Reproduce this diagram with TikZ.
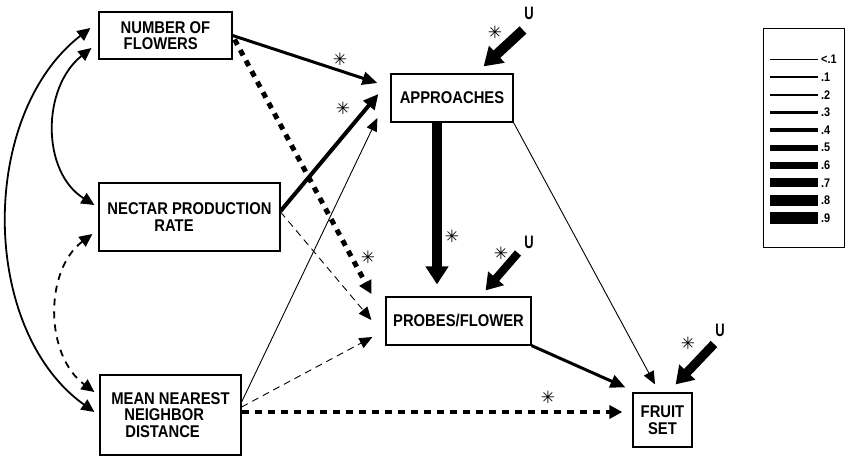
\documentclass[tikz,border=0pt]{standalone}
\usepackage{fontspec}
\newfontfamily\labfont{Liberation Sans}[FakeStretch=0.87]
\newfontfamily\ufont{Liberation Sans}[FakeStretch=0.72]
\newfontfamily\symfont{DejaVu Sans}
\usetikzlibrary{arrows.meta,calc}

\begin{document}
\begin{tikzpicture}[x=1pt,y=-1pt,
  box/.style={draw, line width=1.2pt, inner sep=0pt,
    font=\labfont\bfseries\fontsize{17pt}{16.5pt}\selectfont},
  leglab/.style={inner sep=0pt, anchor=west,
    font=\labfont\bfseries\fontsize{12.5pt}{12.5pt}\selectfont},
  ulab/.style={inner sep=0pt, font=\ufont\bfseries\fontsize{18pt}{18pt}\selectfont},
  sig/.style={inner sep=0pt, font=\symfont\fontsize{17pt}{17pt}\selectfont},
  % path coefficients, line width by strength
  thin/.style={line width=0.9pt, -{Triangle[length=13pt,width=11pt]}},
  thindash/.style={thin, dash pattern=on 7pt off 5pt},
  mid/.style={line width=3pt, -{Triangle[length=15pt,width=13pt]}},
  midthick/.style={line width=4pt, -{Triangle[length=15pt,width=14pt]}},
  dotthick/.style={line width=5pt, dash pattern=on 6pt off 6pt,
    -{Triangle[length=13pt,width=13pt]}},
  heavy/.style={line width=10pt, -{Triangle[length=18pt,width=22pt]}},
  corr/.style={line width=1.8pt, {Triangle[length=13pt,width=12pt]}-{Triangle[length=13pt,width=12pt]}},
]
\useasboundingbox (0,0) rectangle (846,458);

% variables
\node[box, minimum width=133pt, minimum height=47pt, align=left] (nof) at (165.5,35.5)
  {NUMBER OF\\\hspace*{3pt}FLOWERS};
\node[box, minimum width=181pt, minimum height=68pt, align=left] (nec) at (189.5,217)
  {NECTAR PRODUCTION\\\hspace*{47pt}RATE};
\node[box, minimum width=141pt, minimum height=80pt, align=left] (mnn) at (170.5,415)
  {MEAN NEAREST\\\hspace*{13pt}NEIGHBOR\\\hspace*{14pt}DISTANCE};
\node[box, minimum width=122pt, minimum height=48pt] (app) at (452,98) {APPROACHES};
\node[box, minimum width=145pt, minimum height=48pt] (prb) at (458.5,321) {PROBES/FLOWER};
\node[box, minimum width=59pt, minimum height=54pt, align=center] (fru) at (662.5,420)
  {FRUIT\\SET};

% correlations among the floral variables
\draw[corr] ($(nof.west)+(-8,-7.5)$) .. controls +(-112,87) and +(-115,-82) .. ($(mnn.west)+(-5,-3)$);
\draw[corr] ($(nof.west)+(-7,12.5)$) .. controls +(-50,40) and +(-53,-33) .. ($(nec.west)+(-4,-12)$);
\draw[corr, dash pattern=on 7pt off 6pt] ($(nec.west)+(-6,17)$) .. controls +(-48,36) and +(-50,-37) .. ($(mnn.west)+(-5,-23)$);

% paths to approaches
\draw[mid] (nof.east) -- ($(app.west)+(-13,-15)$);
\draw[midthick] ($(nec.east)+(0,-6)$) -- ($(app.west)+(-12,-4)$);
\draw[thin] ($(mnn.east)+(0,-13)$) -- ($(app.west)+(-13,20)$);

% paths to probes per flower
\draw[dotthick] ($(nof.east)+(2,4)$) -- ($(prb.west)+(-14,-27)$);
\draw[thindash] ($(nec.east)+(0,-5)$) -- ($(prb.west)+(-14,-1)$);
\draw[thindash] ($(mnn.east)+(0,-8)$) -- ($(prb.west)+(-13,16)$);
\coordinate (appfoot) at ($(app.south)+(-15,0)$);
\coordinate (prbhead) at ($(prb.north)+(0,-12)$);
\draw[heavy] (appfoot) -- (appfoot |- prbhead);

% paths to fruit set
\draw[dotthick, line width=4pt, dash pattern=on 7pt off 6pt] ($(mnn.east)+(0,-3)$) -- ($(fru.west)+(-10,-8)$);
\draw[thin] (app.south east) -- ($(fru.north)+(-7.5,-8)$);
\draw[mid] (prb.south east) -- ($(fru.north west)+(-7,-5)$);

% unexplained variance
\node[ulab] (ua) at (529,13) {U};
\node[ulab] (up) at (529,242) {U};
\node[ulab] (uf) at (720,330) {U};
\coordinate (ta) at (523,30);
\coordinate (tp) at (518,253);
\coordinate (tf) at (714,344);
\draw[heavy] (ta) -- ($(app.north east)+(-30,-7)$);
\draw[heavy, line width=8pt, -{Triangle[length=16pt,width=20pt]}] (tp) -- ($(prb.north east)+(-46,-6)$);
\draw[heavy, line width=9pt, -{Triangle[length=17pt,width=21pt]}] (tf) -- ($(fru.north east)+(-17,-8)$);

% significance marks
\node[sig] (s1) at (340,59) {✳};
\node[sig] (s2) at (343,108) {✳};
\node[sig] (s3) at (368,257) {✳};
\node[sig] (s4) at (452,236) {✳};
\node[sig] (s5) at (548,397) {✳};
\node[sig] (s6) at (495,32) {✳};
\node[sig] (s7) at (501,253) {✳};
\node[sig] (s8) at (688,343) {✳};

% key to line widths
\node[draw, line width=1pt, minimum width=81pt, minimum height=219pt] (key) at (803.5,137.5) {};
\foreach \lbl/\w [count=\i from 0] in {{<.1}/0.8, .1/1.3, .2/2, .3/3.5, .4/4.5, .5/6, .6/7, .7/9, .8/10.5, .9/12} {
  \draw[line width=\w pt] (770,59.5+17.6*\i) -- (818,59.5+17.6*\i);
  \node[leglab] at (821,59.5+17.6*\i) {\lbl};
}
\end{tikzpicture}
\end{document}
